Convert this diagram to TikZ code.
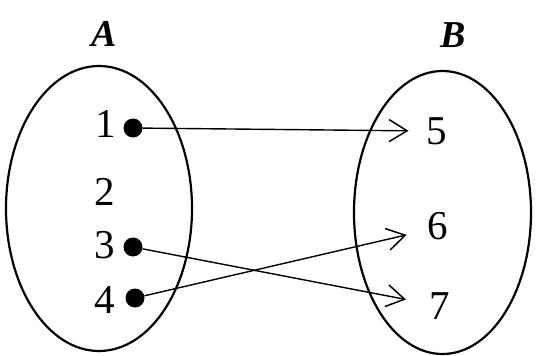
\documentclass[tikz,border=0pt]{standalone}
\usepackage{fontspec}
\setmainfont{Liberation Serif}
\usetikzlibrary{arrows.meta,shapes.geometric}

\begin{document}
\begin{tikzpicture}[
  x=1pt, y=-1pt,
  setbox/.style={draw, ellipse, line width=2.2pt, inner sep=0pt},
  setname/.style={font=\fontsize{38}{42}\selectfont\bfseries\itshape, inner sep=0pt},
  num/.style={font=\fontsize{41}{45}\selectfont, inner sep=0pt},
  dot/.style={circle, fill, inner sep=0pt, minimum size=19pt},
  arr/.style={-{Straight Barb[length=18pt, width=22pt, line width=1.5pt]}, line width=1.4pt}
]
\useasboundingbox (0,0) rectangle (539,356);
\node[setbox, minimum width=186pt, minimum height=285pt] (setA) at (99,208.5) {};
\node[setbox, minimum width=177pt, minimum height=283pt] (setB) at (442.5,212.5) {};
\node[setname] (labA) at (104,34) {A};
\node[setname] (labB) at (453,35) {B};
\node[num] (n1) at (106,124) {1};
\node[num] (n2) at (105,192) {2};
\node[num] (n3) at (105,245) {3};
\node[num] (n4) at (105,300) {4};
\node[dot] (d1) at (133,128) {};
\node[dot] (d3) at (133,247) {};
\node[dot] (d4) at (135,298) {};
\node[num] (n5) at (437,131) {5};
\node[num] (n6) at (438,226) {6};
\node[num] (n7) at (440,306) {7};
\draw[arr, shorten >=18pt] (d1) -- (n5.west);
\draw[arr, shorten >=21.5pt] (d4) -- ([yshift=-4pt]n6.west);
\draw[arr, shorten >=24pt] (d3) -- ([yshift=2pt]n7.west);
\end{tikzpicture}
\end{document}
